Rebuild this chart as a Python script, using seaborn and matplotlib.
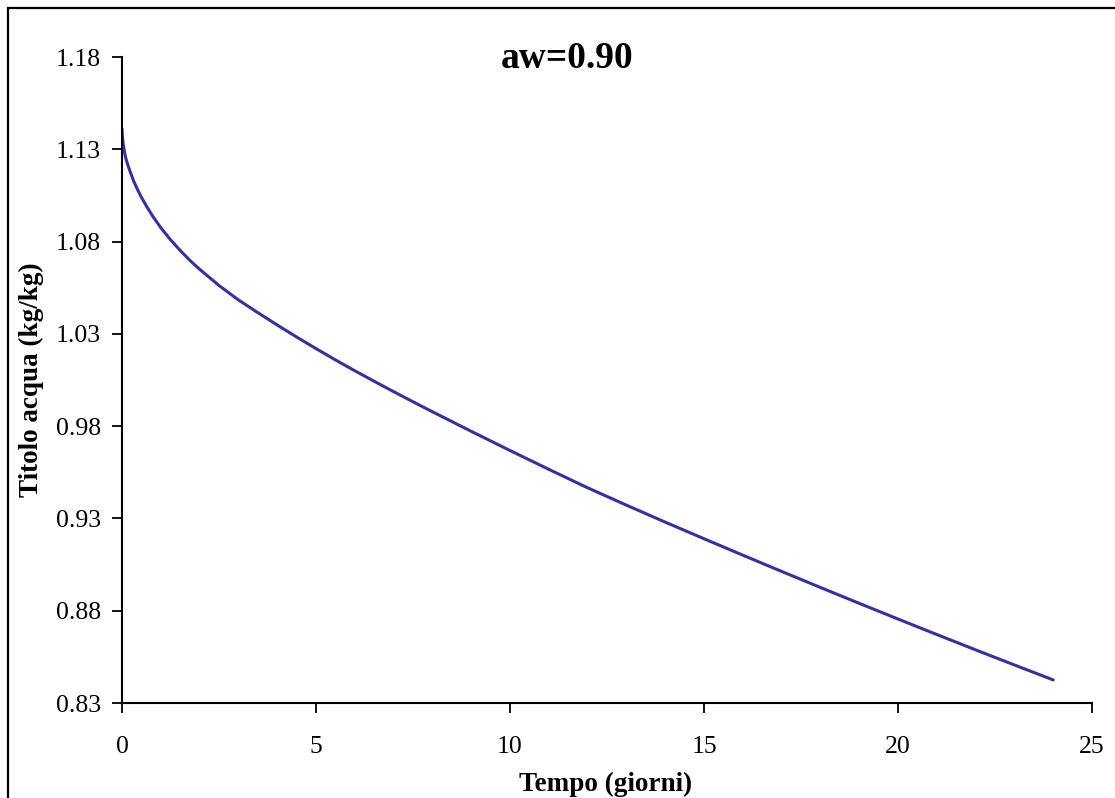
import matplotlib
matplotlib.use("Agg")
import matplotlib.pyplot as plt
from matplotlib.patches import Rectangle
import seaborn as sns
import pandas as pd

tempo = [0, 0.01, 0.03, 0.06, 0.1, 0.15, 0.2, 0.3, 0.4, 0.5, 0.65, 0.8, 1.0,
         1.25, 1.5, 1.75, 2, 2.5, 3, 3.5, 4, 4.5, 5, 5.5, 6, 6.5, 7, 7.5, 8,
         9, 10, 11, 12, 13, 14, 15, 16, 17, 18, 19, 20, 21, 22, 23, 24]
titolo = [1.141, 1.137, 1.133, 1.129, 1.125, 1.1215, 1.1185, 1.1128, 1.1082,
          1.104, 1.0985, 1.0935, 1.0875, 1.081, 1.0752, 1.0698, 1.065, 1.0562,
          1.0484, 1.0415, 1.0348, 1.0283, 1.022, 1.0159, 1.010, 1.0043, 0.9987,
          0.9932, 0.9878, 0.9772, 0.9668, 0.9566, 0.9466, 0.9372, 0.9280,
          0.9190, 0.9101, 0.9013, 0.8926, 0.8840, 0.8755, 0.8671, 0.8588,
          0.8506, 0.8425]
xticks = [0, 5, 10, 15, 20, 25]
yticks = [0.83, 0.88, 0.93, 0.98, 1.03, 1.08, 1.13, 1.18]
titolo_grafico = "aw=0.90"

df = pd.DataFrame({"tempo": tempo, "titolo": titolo})

sns.set_style("ticks")
plt.rcParams['font.family'] = ['Liberation Serif', 'DejaVu Serif']
plt.rcParams['text.color'] = 'black'
plt.rcParams['xtick.color'] = 'black'
plt.rcParams['ytick.color'] = 'black'

W, H = 1115, 798
fig = plt.figure(figsize=(W / 100, H / 100), dpi=100)
ax = fig.add_axes([122 / W, 1 - 703 / H, 970 / W, 646 / H])

sns.lineplot(data=df, x="tempo", y="titolo", ax=ax, color="#333399",
             linewidth=2.2, estimator=None, sort=False)

ax.set_xlim(0, 25)
ax.set_ylim(0.83, 1.18)
ax.set_xticks(xticks)
ax.set_yticks(yticks)
ax.set_yticklabels(["%.2f" % v for v in yticks])
ax.set_xlabel("")
ax.set_ylabel("")
for side in ["top", "right"]:
    ax.spines[side].set_visible(False)
for side in ["left", "bottom"]:
    ax.spines[side].set_color("black")
    ax.spines[side].set_linewidth(1.5)
ax.tick_params(axis="both", direction="out", length=7, width=1.3,
               colors="black", labelsize=18.5)
ax.tick_params(axis="y", pad=8)
ax.tick_params(axis="x", pad=17)

fig.text(567 / W, 1 - 59 / H, titolo_grafico, ha="center", va="center",
         fontsize=27, fontweight="bold")
fig.text(606 / W, 1 - 784 / H, "Tempo (giorni)", ha="center", va="center",
         fontsize=19.5, fontweight="bold")
fig.text(31 / W, 1 - 380 / H, "Titolo acqua (kg/kg)", ha="center",
         va="center", rotation=90, fontsize=19.5, fontweight="bold")

# outer chart frame
fig.patches.append(Rectangle((8 / W, -0.05), 1.1, 1 - 8 / H + 0.05,
                             transform=fig.transFigure, fill=False,
                             edgecolor="black", linewidth=1.6))

fig.savefig("out.png", dpi=100)
